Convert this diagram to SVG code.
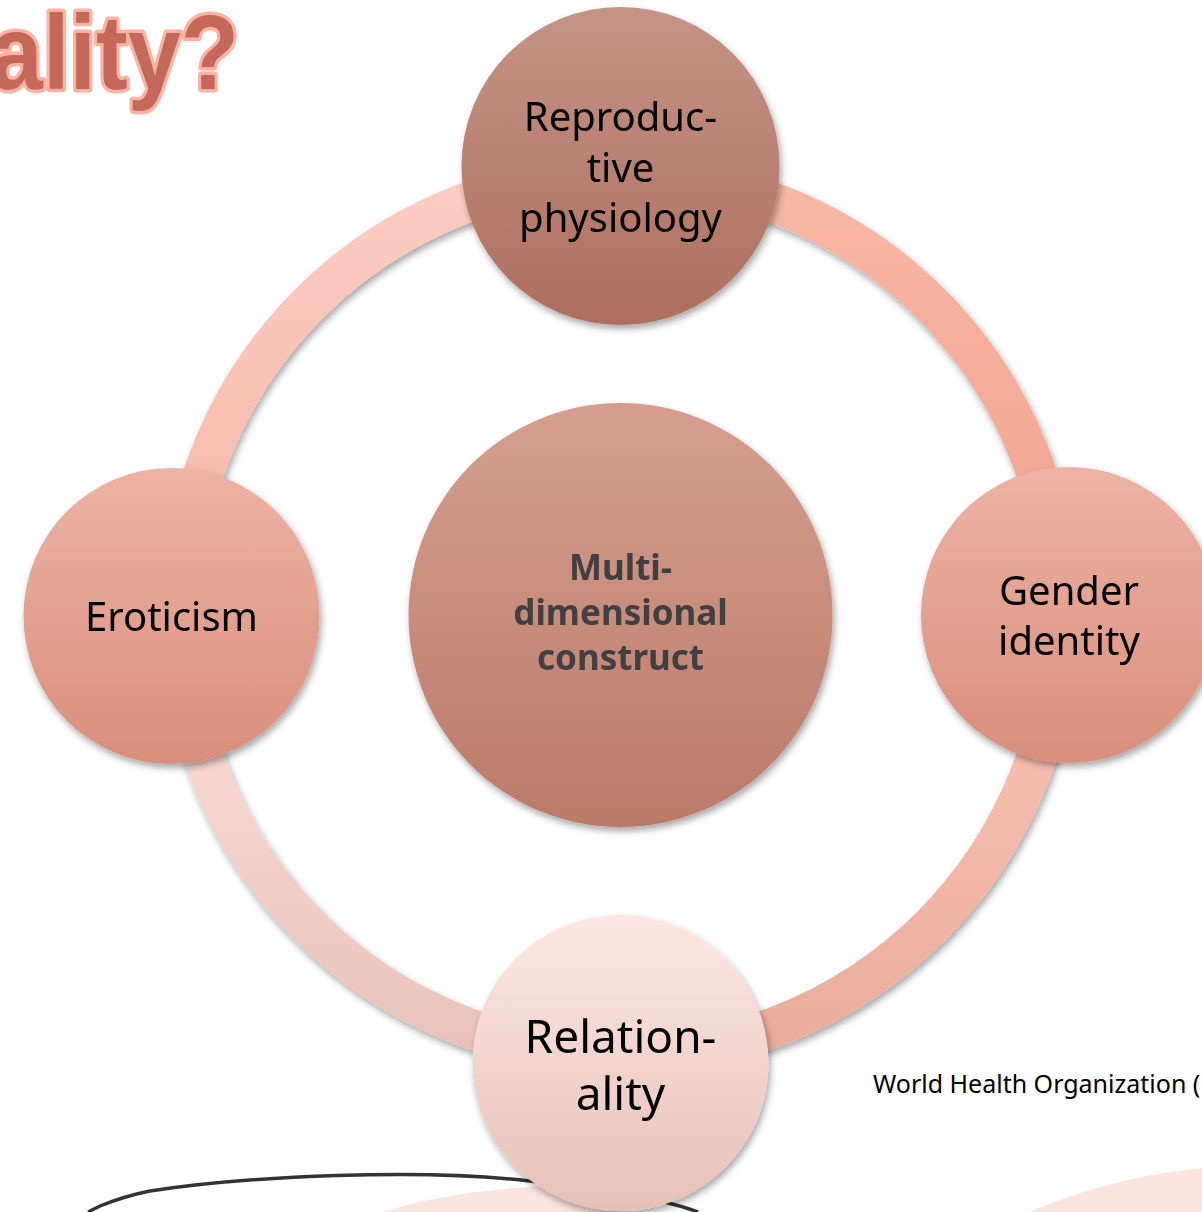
<svg xmlns="http://www.w3.org/2000/svg" width="1202" height="1212" viewBox="0 0 1202 1212">
<defs>
<filter id="sh" x="-20%" y="-20%" width="140%" height="140%">
<feDropShadow dx="2" dy="4" stdDeviation="3.5" flood-color="#000" flood-opacity="0.35"/>
</filter>
<linearGradient id="gTop" x1="0" y1="7" x2="0" y2="325" gradientUnits="userSpaceOnUse"><stop offset="0" stop-color="#C49486"/><stop offset="1" stop-color="#AE6E5E"/></linearGradient>
<linearGradient id="gCen" x1="0" y1="403" x2="0" y2="827" gradientUnits="userSpaceOnUse"><stop offset="0" stop-color="#D59F90"/><stop offset="1" stop-color="#BB7A69"/></linearGradient>
<linearGradient id="gSide" x1="0" y1="467" x2="0" y2="763" gradientUnits="userSpaceOnUse"><stop offset="0" stop-color="#EDB3A4"/><stop offset="1" stop-color="#D98E7C"/></linearGradient>
<linearGradient id="gBot" x1="0" y1="915" x2="0" y2="1211" gradientUnits="userSpaceOnUse"><stop offset="0" stop-color="#FDE7E2"/><stop offset="1" stop-color="#E6C1B8"/></linearGradient>
<linearGradient id="rTL" x1="0" y1="175" x2="0" y2="615" gradientUnits="userSpaceOnUse"><stop offset="0" stop-color="#FBCDC3"/><stop offset="1" stop-color="#F5B6A6"/></linearGradient>
<linearGradient id="rTR" x1="0" y1="175" x2="0" y2="615" gradientUnits="userSpaceOnUse"><stop offset="0" stop-color="#F8B8A6"/><stop offset="1" stop-color="#EFA18C"/></linearGradient>
<linearGradient id="rBR" x1="0" y1="615" x2="0" y2="1055" gradientUnits="userSpaceOnUse"><stop offset="0" stop-color="#FDC6B8"/><stop offset="1" stop-color="#E9AC9B"/></linearGradient>
<linearGradient id="rBL" x1="0" y1="615" x2="0" y2="1055" gradientUnits="userSpaceOnUse"><stop offset="0" stop-color="#FEE2DC"/><stop offset="1" stop-color="#E8C2B9"/></linearGradient>
</defs>
<style>
.ring{fill:none;stroke-width:40}
.lbl{font-family:"Noto Sans","Open Sans","DejaVu Sans",sans-serif;fill:#000;text-anchor:middle;font-size:40px}
.cen{font-family:"Noto Sans","Open Sans","DejaVu Sans",sans-serif;font-weight:bold;fill:#404040;text-anchor:middle;font-size:35px}
</style>
<rect width="1202" height="1212" fill="#fff"/>

<g id="background">
<path d="M383 1212 C440 1193 520 1185 600 1184 L620 1212 Z" fill="#FCE4DE"/>
<path d="M1030 1212 C1080 1190 1140 1174 1202 1168 L1202 1212 Z" fill="#FCE4DE"/>
<path d="M88 1212 L100 1206 Q125 1196 150 1191 C250 1176 420 1168 530 1181 C600 1188 660 1198 698 1212" fill="none" stroke="#333" stroke-width="3.5"/>
<text transform="translate(239 89) scale(0.9 1)" x="0" y="0" font-family="Liberation Sans, Arial, sans-serif" font-weight="bold" font-size="106" fill="#C4695A" stroke="#FFB2A1" stroke-width="7" stroke-linejoin="round" paint-order="stroke" text-anchor="end">ality?</text>
<text x="873" y="1093" font-family="Noto Sans, Open Sans, sans-serif" font-size="25" fill="#000">World Health Organization (</text>
</g>

<g id="connectors" filter="url(#sh)">
<path class="ring" stroke="url(#rTL)" d="M620 175 A440 440 0 0 0 180 615"/>
<path class="ring" stroke="url(#rTR)" d="M620 175 A440 440 0 0 1 1060 615"/>
<path class="ring" stroke="url(#rBR)" d="M1060 615 A440 440 0 0 1 620 1055"/>
<path class="ring" stroke="url(#rBL)" d="M180 615 A440 440 0 0 0 620 1055"/>
</g>

<g id="center" filter="url(#sh)">
<circle cx="620.5" cy="615" r="212" fill="url(#gCen)"/>
<text class="cen" x="620.5" y="580">Multi-</text>
<text class="cen" x="620.5" y="625">dimensional</text>
<text class="cen" x="620.5" y="670">construct</text>
</g>

<g id="reproductive" filter="url(#sh)">
<circle cx="620.5" cy="166" r="159" fill="url(#gTop)"/>
<text class="lbl" x="620.5" y="131">Reproduc-</text>
<text class="lbl" x="620.5" y="182">tive</text>
<text class="lbl" x="620.5" y="232">physiology</text>
</g>

<g id="eroticism" filter="url(#sh)">
<circle cx="171.5" cy="616" r="148" fill="url(#gSide)"/>
<text class="lbl" x="171.5" y="631">Eroticism</text>
</g>

<g id="gender" filter="url(#sh)">
<circle cx="1069" cy="615" r="148" fill="url(#gSide)"/>
<text class="lbl" x="1069" y="605">Gender</text>
<text class="lbl" x="1069" y="655">identity</text>
</g>

<g id="relationality" filter="url(#sh)">
<circle cx="620.5" cy="1063" r="148" fill="url(#gBot)"/>
<text class="lbl" style="font-size:46px" x="620.5" y="1053">Relation-</text>
<text class="lbl" style="font-size:46px" x="620.5" y="1110">ality</text>
</g>
</svg>
